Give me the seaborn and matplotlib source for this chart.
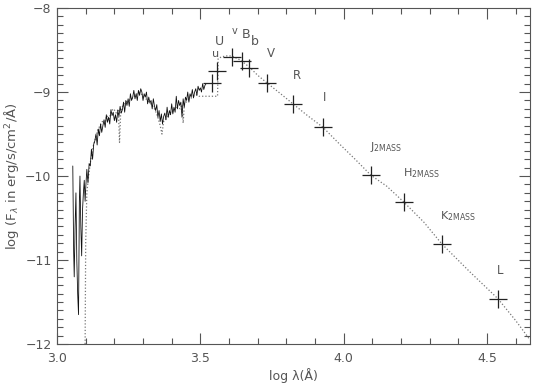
import numpy as np
import pandas as pd
import matplotlib
matplotlib.use('Agg')
import matplotlib.pyplot as plt
from matplotlib.ticker import MultipleLocator
import seaborn as sns

# observed spectrum (solid), log lambda / log F
spec_x = [3.055, 3.058, 3.060, 3.063, 3.066, 3.069, 3.072, 3.075, 3.078, 3.080,
          3.083, 3.086, 3.089, 3.092, 3.095, 3.098,
          3.100, 3.104, 3.108, 3.112, 3.116, 3.120, 3.124, 3.128, 3.132, 3.136,
          3.140, 3.144, 3.148, 3.152, 3.156, 3.160, 3.164, 3.168, 3.172, 3.176,
          3.180, 3.184, 3.188, 3.192, 3.196, 3.200, 3.204, 3.208, 3.212, 3.216,
          3.220, 3.224, 3.228, 3.232, 3.236, 3.240, 3.244, 3.248, 3.252, 3.256,
          3.260, 3.264, 3.268, 3.272, 3.276, 3.280, 3.284, 3.288, 3.292, 3.296,
          3.300, 3.304, 3.308, 3.312, 3.316, 3.320, 3.324, 3.328, 3.332, 3.336,
          3.340, 3.344, 3.348, 3.352, 3.356, 3.360, 3.364, 3.368, 3.372, 3.376,
          3.380, 3.384, 3.388, 3.392, 3.396, 3.400, 3.404, 3.408, 3.412, 3.416,
          3.420, 3.424, 3.428, 3.432, 3.436, 3.440, 3.444, 3.448, 3.452, 3.456,
          3.460, 3.464, 3.468, 3.472, 3.476, 3.480, 3.484, 3.488, 3.492, 3.496,
          3.500, 3.504, 3.508, 3.512, 3.516, 3.520]
spec_y = [-9.88, -10.9, -11.2, -10.6, -10.2, -11.0, -11.4, -11.65, -10.3, -10.0,
          -10.6, -10.95, -10.4, -10.2, -10.05, -10.3,
          -10.15, -9.92, -10.08, -9.85, -9.88, -9.68, -9.8, -9.62, -9.58, -9.5,
          -9.63, -9.44, -9.52, -9.38, -9.48, -9.4, -9.33, -9.42, -9.27, -9.36,
          -9.3, -9.38, -9.21, -9.28, -9.24, -9.34, -9.27, -9.36, -9.22, -9.29,
          -9.17, -9.25, -9.21, -9.12, -9.24, -9.1, -9.16, -9.08, -9.17, -9.02,
          -9.1, -9.06, -8.98, -9.08, -9.02, -9.1, -8.98, -9.04, -8.96, -9.0,
          -9.1, -9.02, -9.06, -9.0, -9.14, -9.06, -9.13, -9.1, -9.2, -9.08,
          -9.17, -9.22, -9.15, -9.3, -9.22, -9.35, -9.26, -9.38, -9.29, -9.25,
          -9.33, -9.18, -9.3, -9.22, -9.27, -9.14, -9.26, -9.18, -9.24, -9.05,
          -9.2, -9.1, -9.16, -9.12, -9.3, -9.08, -9.18, -9.06, -9.1, -9.0,
          -9.12, -9.02, -9.06, -8.97, -9.07, -9.0, -8.96, -9.04, -8.93, -8.98,
          -8.95, -9.0, -8.9, -8.97, -8.92, -8.9]

# model (dotted)
model_x = [3.098, 3.100, 3.104, 3.110, 3.118, 3.126, 3.134, 3.142, 3.150, 3.158,
           3.166, 3.174, 3.182, 3.190, 3.198, 3.206, 3.214, 3.218, 3.222, 3.230,
           3.240, 3.250, 3.260, 3.270, 3.280, 3.290, 3.300, 3.310, 3.320, 3.330,
           3.340, 3.350, 3.360, 3.366, 3.372, 3.380, 3.390, 3.400, 3.410, 3.420,
           3.430, 3.436, 3.440, 3.444, 3.455, 3.465, 3.475, 3.485, 3.495, 3.500,
           3.560, 3.562, 3.575, 3.590, 3.610, 3.640, 3.670, 3.700, 3.732, 3.780,
           3.823, 3.870, 3.928, 3.980, 4.040, 4.095, 4.150, 4.210, 4.280, 4.343,
           4.440, 4.538, 4.600, 4.650]
model_y = [-12.0, -10.8, -10.2, -10.0, -9.8, -9.65, -9.55, -9.45, -9.4, -9.35,
           -9.38, -9.28, -9.32, -9.22, -9.2, -9.25, -9.2, -9.6, -9.25, -9.15,
           -9.12, -9.1, -9.08, -9.05, -9.02, -9.0, -9.05, -9.08, -9.12, -9.15,
           -9.2, -9.28, -9.4, -9.5, -9.35, -9.32, -9.28, -9.25, -9.2, -9.18,
           -9.2, -9.15, -9.37, -9.15, -9.1, -9.08, -9.05, -9.03, -9.05, -9.05,
           -9.05, -8.6, -8.58, -8.57, -8.57, -8.62, -8.7, -8.8, -8.89, -9.02,
           -9.14, -9.27, -9.42, -9.6, -9.8, -9.99, -10.12, -10.31, -10.55, -10.81,
           -11.14, -11.46, -11.72, -11.95]

# photometry
phot_x = [3.541, 3.558, 3.610, 3.645, 3.670, 3.732, 3.823, 3.928, 4.095, 4.210, 4.343, 4.538]
phot_y = [-8.89, -8.75, -8.58, -8.63, -8.71, -8.89, -9.14, -9.42, -9.99, -10.31, -10.81, -11.46]

band_labels = ['U', 'u', 'v', 'B', 'b', 'V', 'R', 'I',
               r'J$_{\rm 2MASS}$', r'H$_{\rm 2MASS}$', r'K$_{\rm 2MASS}$', 'L']
label_x = [3.565, 3.553, 3.620, 3.660, 3.690, 3.746, 3.837, 3.935, 4.150, 4.270, 4.398, 4.545]
label_y = [-8.40, -8.55, -8.27, -8.32, -8.40, -8.54, -8.80, -9.06, -9.65, -9.96, -10.48, -11.12]
label_size = [9, 8, 7, 9, 9, 8.5, 8.5, 8.5, 8, 8, 8, 8.5]

sns.set_style('ticks')
plt.rcParams['font.family'] = ['DejaVu Sans']
grey = '#555555'

fig = plt.figure(figsize=(5.4, 3.84), dpi=100)
ax = fig.add_axes([0.1056, 0.104, 0.8759, 0.875])

spec = pd.DataFrame({'x': spec_x, 'y': spec_y})
model = pd.DataFrame({'x': model_x, 'y': model_y})
phot = pd.DataFrame({'x': phot_x, 'y': phot_y})

sns.lineplot(data=model, x='x', y='y', sort=False, estimator=None, ax=ax,
             color='#777777', lw=0.9, linestyle=(0, (1, 1.6)))
sns.lineplot(data=spec, x='x', y='y', sort=False, estimator=None, ax=ax,
             color='#111111', lw=0.6)
sns.scatterplot(data=phot, x='x', y='y', ax=ax, marker='+', s=150,
                color='#222222', linewidth=0.9, zorder=5)

for t, x, y, s in zip(band_labels, label_x, label_y, label_size):
    ax.text(x, y, t, fontsize=s, color=grey, ha='center', va='center')

ax.set_xlim(3.0, 4.65)
ax.set_ylim(-12, -8)
ax.xaxis.set_major_locator(MultipleLocator(0.5))
ax.xaxis.set_minor_locator(MultipleLocator(0.1))
ax.yaxis.set_major_locator(MultipleLocator(1))
ax.yaxis.set_minor_locator(MultipleLocator(0.1))
ax.xaxis.set_major_formatter(plt.FormatStrFormatter('%.1f'))
ax.yaxis.set_major_formatter(plt.FuncFormatter(lambda v, p: '\u2212%d' % abs(v)))
ax.tick_params(which='both', direction='in', top=True, right=True,
               colors=grey, labelsize=9, width=0.8)
ax.tick_params(which='major', length=8)
ax.tick_params(axis='x', which='major', pad=6)
ax.tick_params(axis='y', which='major', pad=4)
ax.tick_params(which='minor', length=4)
for sp in ax.spines.values():
    sp.set_color(grey)
    sp.set_linewidth(0.8)

ax.set_xlabel('log λ(Å)', fontsize=9, color=grey, labelpad=2)
ax.set_ylabel(r'log (F$_\lambda$ in erg/s/cm$^2$/Å)', fontsize=9.5, color=grey, labelpad=3)

fig.savefig('out.png', dpi=100)
